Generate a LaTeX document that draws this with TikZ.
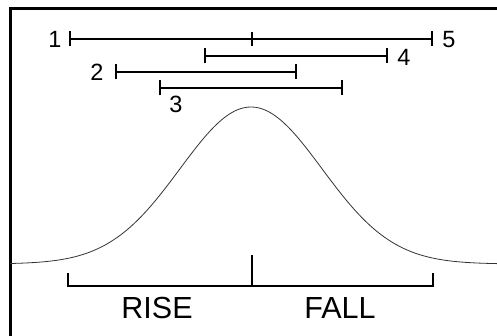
\documentclass[tikz,border=0pt]{standalone}
\usepackage{fontspec}
\setmainfont{Liberation Sans}
\usetikzlibrary{arrows.meta}
\begin{document}
\begin{tikzpicture}[
  x=1pt, y=-1pt,
  num/.style={inner sep=0pt, font=\fontsize{23.5}{24}\selectfont},
  big/.style={inner sep=0pt, font=\fontsize{30.5}{31}\selectfont},
  interval/.style={line width=1.6pt, {Bar[width=15pt,line width=1.6pt]}-{Bar[width=15pt,line width=1.6pt]}},
  bracket/.style={line width=1.6pt},
  curve/.style={line width=0.8pt, black!80}
]
\useasboundingbox (0,0) rectangle (497,336);
\draw[line width=3pt] (10,336) -- (10,8.5) -- (497,8.5);
% intervals
\coordinate (a1) at (69,39);  \coordinate (b1) at (433,39);
\coordinate (a4) at (204,56); \coordinate (b4) at (388,56);
\coordinate (a2) at (115,72); \coordinate (b2) at (297,72);
\coordinate (a3) at (159,88); \coordinate (b3) at (343,88);
\draw[interval] (a1) -- (b1);
\draw[interval] (a4) -- (b4);
\draw[interval] (a2) -- (b2);
\draw[interval] (a3) -- (b3);
\coordinate (mid) at (252,39);
\draw[bracket] ([yshift=-7pt]mid) -- ([yshift=7pt]mid);
\node[num] (n1) at (55,39) {1};
\node[num] (n5) at (449,40) {5};
\node[num] (n4) at (404,57) {4};
\node[num] (n2) at (97,72) {2};
\node[num] (n3) at (176,104) {3};
% curve
\draw[curve] plot[domain=10:497, samples=120, smooth] (\x, {264-157*exp(-0.5*((\x-251)/71)^2)});
% bracket
\coordinate (l) at (68,286); \coordinate (r) at (433,286); \coordinate (c) at (252,286);
\draw[bracket] ([yshift=13pt]l) -- (l) -- (r) -- ([yshift=13pt]r);
\draw[bracket] (c) -- ([yshift=31pt]c);
\node[big] (rise) at (157,308) {RISE};
\node[big] (fall) at (340,308) {FALL};
\end{tikzpicture}
\end{document}
